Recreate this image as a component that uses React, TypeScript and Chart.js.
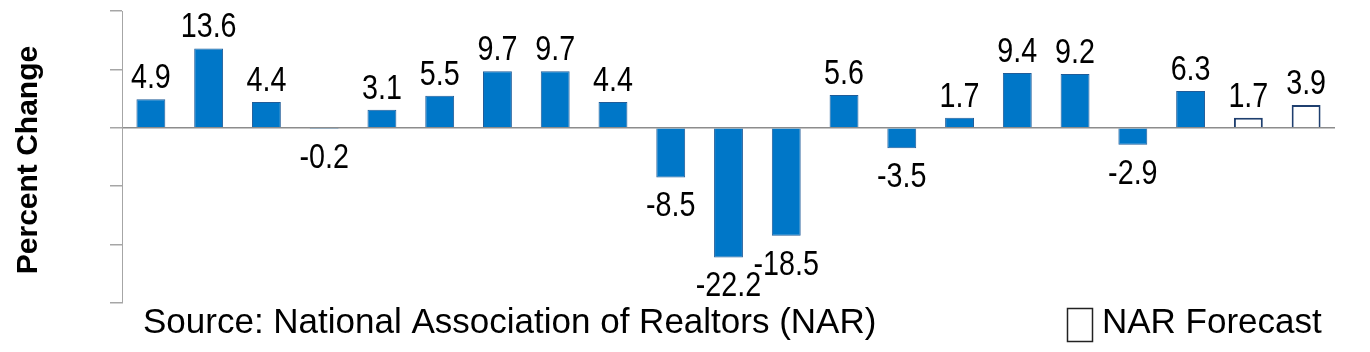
import React, { useEffect, useRef } from "react";
import { Chart, registerables } from "chart.js";

Chart.register(...registerables);

const categories = [
  "1998", "1999", "2000", "2001", "2002", "2003", "2004", "2005", "2006", "2007", "2008",
  "2009", "2010", "2011", "2012", "2013", "2014", "2015", "2016", "2017", "2018",
];
const values = [4.9, 13.6, 4.4, -0.2, 3.1, 5.5, 9.7, 9.7, 4.4, -8.5, -22.2, -18.5, 5.6, -3.5, 1.7, 9.4, 9.2, -2.9, 6.3, 1.7, 3.9];
const isForecast = [
  false, false, false, false, false, false, false, false, false, false, false,
  false, false, false, false, false, false, false, false, true, true,
];
const yTicks = { min: -30, max: 20, step: 10 };
const yTitle = "Percent Change";
const sourceText = "Source: National Association of Realtors (NAR)";
const legendText = "NAR Forecast";

const BLUE = "#0077C8";
const BLUE_BORDER = "#1F5C99";
const NAVY = "#1F3F6F";

const labelsPlugin = {
  id: "customText",
  afterDatasetsDraw(chart: any) {
    const ctx = chart.ctx;
    const meta = chart.getDatasetMeta(0);
    ctx.save();
    ctx.fillStyle = "#000";
    ctx.font = "35px 'Liberation Sans', Arial, sans-serif";
    ctx.textAlign = "center";
    ctx.textBaseline = "alphabetic";
    meta.data.forEach((el: any, i: number) => {
      const v = values[i];
      const y = v >= 0 ? el.y - 11 : el.y + 39;
      ctx.save();
      ctx.translate(el.x, y);
      ctx.scale(0.82, 1);
      ctx.fillText(v.toFixed(1), 0, 0);
      ctx.restore();
    });
    ctx.restore();
  },
  afterDraw(chart: any) {
    const ctx = chart.ctx;
    ctx.save();
    // y title
    ctx.fillStyle = "#000";
    ctx.font = "bold 30px 'Liberation Sans', Arial, sans-serif";
    ctx.textAlign = "center";
    ctx.textBaseline = "alphabetic";
    ctx.translate(37, (chart.chartArea.top + chart.chartArea.bottom) / 2 + 3);
    ctx.rotate(-Math.PI / 2);
    ctx.fillText(yTitle, 0, 0);
    ctx.restore();

    ctx.save();
    ctx.fillStyle = "#000";
    ctx.font = "35px 'Liberation Sans', Arial, sans-serif";
    ctx.textAlign = "left";
    ctx.textBaseline = "alphabetic";
    ctx.fillText(sourceText, 143, 333);
    // legend
    ctx.strokeStyle = "#222";
    ctx.lineWidth = 1.5;
    ctx.strokeRect(1067.5, 308.5, 25, 33);
    ctx.fillText(legendText, 1102, 333);
    ctx.restore();
  },
};

export default function App() {
  const ref = useRef<HTMLCanvasElement>(null);
  useEffect(() => {
    document.body.style.margin = "0";
    const chart = new Chart(ref.current!, {
      type: "bar",
      data: {
        labels: categories,
        datasets: [
          {
            data: values,
            backgroundColor: isForecast.map((f) => (f ? "#ffffff" : BLUE)),
            borderColor: isForecast.map((f) => (f ? NAVY : BLUE_BORDER)),
            borderWidth: isForecast.map((f) => (f ? 2 : 1)),
            barPercentage: 0.5,
            categoryPercentage: 1,
          },
        ],
      },
      options: {
        animation: false,
        responsive: false,
        maintainAspectRatio: false,
        layout: { padding: { left: 0, right: 35, top: 11, bottom: 49 } },
        plugins: { legend: { display: false }, tooltip: { enabled: false }, title: { display: false } },
        scales: {
          x: { display: false },
          y: {
            min: yTicks.min,
            max: yTicks.max,
            ticks: { display: false, stepSize: yTicks.step },
            grid: {
              color: (c: any) => (c.tick && c.tick.value === 0 ? "#8c8c8c" : "rgba(0,0,0,0)"),
              tickColor: "#a6a6a6",
              tickLength: 12,
              drawTicks: true,
              lineWidth: 1.5,
            },
            border: { color: "#a6a6a6", width: 1 },
            afterFit: (s: any) => {
              s.width = 122;
            },
          },
        },
      },
      plugins: [labelsPlugin],
    });
    return () => chart.destroy();
  }, []);
  return <canvas ref={ref} width={1370} height={352} style={{ display: "block" }} />;
}
